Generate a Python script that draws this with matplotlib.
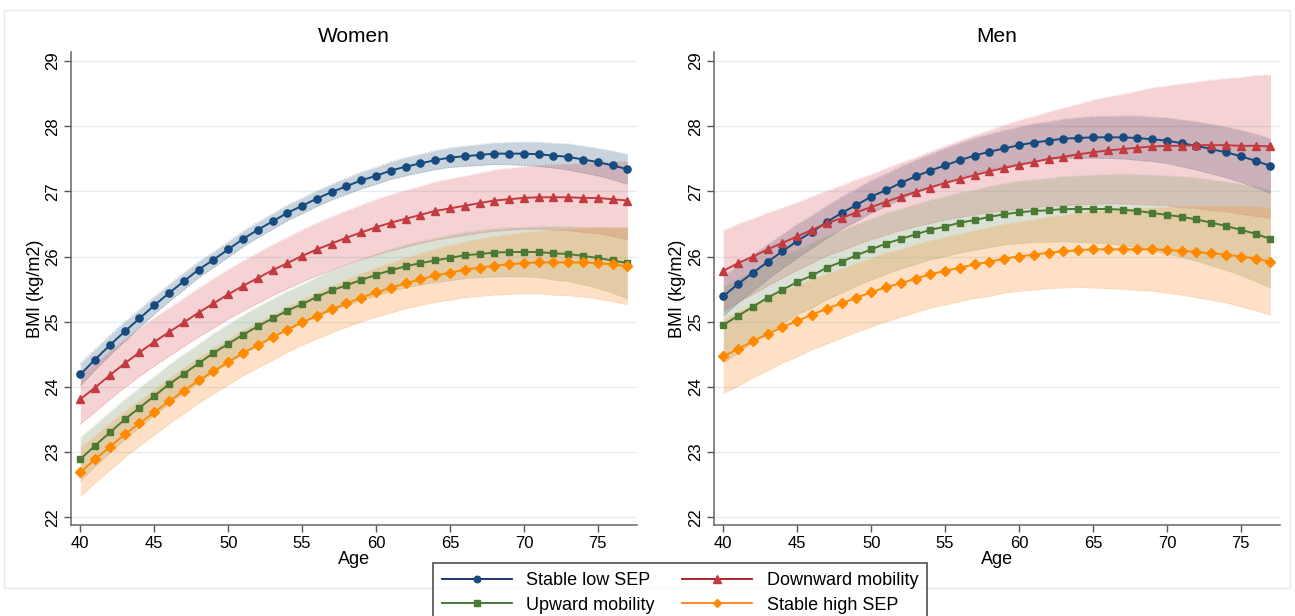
import numpy as np
import matplotlib
matplotlib.use("Agg")
import matplotlib.pyplot as plt
from matplotlib.lines import Line2D
from matplotlib.patches import Rectangle

plt.rcParams['font.family'] = ['Liberation Sans', 'DejaVu Sans']

ages = list(range(40, 78))
x_ticks = [40, 45, 50, 55, 60, 65, 70, 75]
y_ticks = [22, 23, 24, 25, 26, 27, 28, 29]
groups = ["Stable low SEP", "Downward mobility", "Upward mobility", "Stable high SEP"]

# Women: predicted BMI by age
women_low = [24.19, 24.42, 24.64, 24.85, 25.05, 25.25, 25.44, 25.62, 25.80, 25.95,
             26.11, 26.27, 26.41, 26.54, 26.67, 26.78, 26.89, 26.99, 27.08, 27.17,
             27.24, 27.32, 27.38, 27.43, 27.48, 27.52, 27.54, 27.56, 27.58, 27.58,
             27.58, 27.57, 27.55, 27.53, 27.49, 27.45, 27.40, 27.34]
women_down = [23.81, 23.99, 24.18, 24.36, 24.53, 24.69, 24.84, 24.99, 25.14, 25.28,
              25.42, 25.55, 25.67, 25.79, 25.90, 26.01, 26.11, 26.20, 26.29, 26.37,
              26.45, 26.52, 26.58, 26.64, 26.70, 26.74, 26.78, 26.82, 26.86, 26.88,
              26.90, 26.91, 26.91, 26.91, 26.90, 26.90, 26.88, 26.86]
women_up = [22.89, 23.10, 23.30, 23.50, 23.68, 23.86, 24.04, 24.20, 24.36, 24.52,
            24.66, 24.80, 24.93, 25.05, 25.17, 25.27, 25.38, 25.48, 25.56, 25.64,
            25.72, 25.79, 25.85, 25.90, 25.94, 25.98, 26.02, 26.04, 26.06, 26.07,
            26.07, 26.07, 26.05, 26.04, 26.01, 25.98, 25.94, 25.90]
women_high = [22.69, 22.89, 23.08, 23.27, 23.44, 23.61, 23.78, 23.94, 24.10, 24.24,
              24.38, 24.52, 24.64, 24.76, 24.88, 24.99, 25.09, 25.19, 25.28, 25.37,
              25.45, 25.52, 25.59, 25.65, 25.71, 25.75, 25.80, 25.83, 25.86, 25.88,
              25.90, 25.91, 25.91, 25.91, 25.91, 25.90, 25.88, 25.85]

# Women: half width of 95% CI
women_low_ci = [0.17, 0.16, 0.155, 0.15, 0.14, 0.135, 0.13, 0.13, 0.125, 0.12,
                0.12, 0.12, 0.12, 0.12, 0.12, 0.12, 0.12, 0.12, 0.125, 0.13,
                0.13, 0.135, 0.14, 0.14, 0.145, 0.15, 0.155, 0.16, 0.165, 0.17,
                0.18, 0.185, 0.19, 0.20, 0.205, 0.21, 0.22, 0.23]
women_down_ci = [0.38, 0.375, 0.37, 0.37, 0.37, 0.37, 0.37, 0.37, 0.375, 0.38,
                 0.38, 0.385, 0.39, 0.39, 0.395, 0.40, 0.405, 0.41, 0.415, 0.42,
                 0.425, 0.43, 0.435, 0.44, 0.445, 0.45, 0.455, 0.46, 0.47, 0.475,
                 0.48, 0.49, 0.50, 0.51, 0.53, 0.55, 0.57, 0.60]
women_up_ci = [0.33, 0.32, 0.315, 0.31, 0.305, 0.30, 0.30, 0.30, 0.30, 0.30,
               0.30, 0.30, 0.30, 0.30, 0.30, 0.30, 0.305, 0.31, 0.31, 0.315,
               0.32, 0.325, 0.33, 0.335, 0.34, 0.35, 0.355, 0.36, 0.37, 0.375,
               0.38, 0.39, 0.41, 0.42, 0.44, 0.47, 0.50, 0.55]
women_high_ci = [0.37, 0.365, 0.36, 0.355, 0.35, 0.35, 0.35, 0.35, 0.35, 0.35,
                 0.35, 0.35, 0.35, 0.35, 0.35, 0.35, 0.355, 0.36, 0.365, 0.37,
                 0.38, 0.385, 0.39, 0.40, 0.41, 0.42, 0.43, 0.44, 0.45, 0.46,
                 0.47, 0.48, 0.50, 0.51, 0.53, 0.55, 0.57, 0.59]

# Men: predicted BMI by age
men_low = [25.39, 25.58, 25.75, 25.92, 26.08, 26.24, 26.38, 26.53, 26.67, 26.79,
           26.92, 27.02, 27.13, 27.23, 27.32, 27.40, 27.48, 27.55, 27.61, 27.66,
           27.71, 27.75, 27.78, 27.81, 27.82, 27.83, 27.83, 27.83, 27.82, 27.80,
           27.78, 27.74, 27.70, 27.65, 27.60, 27.54, 27.47, 27.39]
men_down = [25.78, 25.90, 26.00, 26.11, 26.21, 26.31, 26.41, 26.51, 26.59, 26.68,
            26.76, 26.84, 26.92, 26.99, 27.06, 27.13, 27.19, 27.25, 27.31, 27.36,
            27.41, 27.45, 27.50, 27.53, 27.57, 27.60, 27.63, 27.65, 27.67, 27.69,
            27.70, 27.70, 27.71, 27.71, 27.71, 27.70, 27.70, 27.69]
men_up = [24.95, 25.09, 25.23, 25.37, 25.49, 25.61, 25.71, 25.83, 25.92, 26.02,
          26.11, 26.20, 26.27, 26.34, 26.41, 26.46, 26.52, 26.56, 26.61, 26.65,
          26.68, 26.70, 26.71, 26.73, 26.73, 26.73, 26.73, 26.72, 26.70, 26.67,
          26.64, 26.61, 26.57, 26.52, 26.47, 26.41, 26.35, 26.27]
men_high = [24.47, 24.58, 24.70, 24.81, 24.92, 25.01, 25.11, 25.20, 25.28, 25.37,
            25.45, 25.53, 25.59, 25.66, 25.73, 25.78, 25.83, 25.88, 25.92, 25.97,
            26.00, 26.03, 26.06, 26.08, 26.10, 26.11, 26.11, 26.11, 26.11, 26.11,
            26.10, 26.09, 26.07, 26.05, 26.03, 26.00, 25.97, 25.92]

# Men: half width of 95% CI
men_low_ci = [0.30, 0.29, 0.28, 0.27, 0.26, 0.26, 0.25, 0.25, 0.25, 0.25,
              0.25, 0.25, 0.25, 0.25, 0.25, 0.26, 0.26, 0.27, 0.27, 0.28,
              0.28, 0.29, 0.29, 0.30, 0.31, 0.32, 0.32, 0.33, 0.34, 0.34,
              0.35, 0.36, 0.37, 0.38, 0.39, 0.40, 0.41, 0.42]
men_down_ci = [0.62, 0.60, 0.58, 0.56, 0.54, 0.52, 0.51, 0.50, 0.50, 0.50,
               0.50, 0.51, 0.52, 0.53, 0.55, 0.57, 0.59, 0.61, 0.63, 0.66,
               0.68, 0.70, 0.72, 0.75, 0.77, 0.80, 0.82, 0.84, 0.87, 0.90,
               0.92, 0.95, 0.97, 1.00, 1.02, 1.05, 1.08, 1.10]
men_up_ci = [0.58, 0.57, 0.55, 0.54, 0.52, 0.50, 0.50, 0.49, 0.48, 0.47,
             0.47, 0.47, 0.46, 0.46, 0.46, 0.46, 0.46, 0.46, 0.47, 0.47,
             0.48, 0.48, 0.49, 0.50, 0.51, 0.52, 0.53, 0.55, 0.56, 0.58,
             0.60, 0.62, 0.64, 0.66, 0.68, 0.70, 0.73, 0.75]
men_high_ci = [0.57, 0.57, 0.56, 0.56, 0.55, 0.55, 0.54, 0.54, 0.53, 0.53,
               0.53, 0.53, 0.52, 0.52, 0.52, 0.52, 0.52, 0.52, 0.53, 0.53,
               0.53, 0.54, 0.55, 0.56, 0.57, 0.59, 0.60, 0.61, 0.63, 0.64,
               0.66, 0.68, 0.70, 0.72, 0.74, 0.77, 0.80, 0.82]

# styles per group
mark_cols = ['#174a7e', '#c23b40', '#4a7a34', '#ff8a00']
band_cols = ['#1a476f', '#d9434e', '#7e9a6a', '#fb8f2a']
band_alpha = [0.24, 0.24, 0.28, 0.27]
leg_cols = ['#0c2568', '#a8121a', '#3c6a2c', '#ff7f1a']
markers = ['o', '^', 's', 'D']
msizes = [5.2, 5.8, 5, 4.7]

W, H = 1295, 616
fig = plt.figure(figsize=(W / 100, H / 100), dpi=100)
fig.patches.append(Rectangle((4 / W, 1 - 588 / H), 1286 / W, 578 / H,
                             transform=fig.transFigure, fill=False,
                             edgecolor='#e8e8e8', linewidth=1))

ax_w = fig.add_axes([71 / W, 1 - 525 / H, 566 / W, 473 / H])
ax_m = fig.add_axes([714 / W, 1 - 525 / H, 566 / W, 473 / H])

panels = [
    (ax_w, "Women", [women_low, women_down, women_up, women_high],
     [women_low_ci, women_down_ci, women_up_ci, women_high_ci]),
    (ax_m, "Men", [men_low, men_down, men_up, men_high],
     [men_low_ci, men_down_ci, men_up_ci, men_high_ci]),
]

for ax, title, means, cis in panels:
    for g in range(4):
        m = np.array(means[g])
        c = np.array(cis[g])
        ax.fill_between(ages, m - c, m + c, color=band_cols[g], alpha=band_alpha[g],
                        linewidth=0, zorder=2)
        ax.plot(ages, m - c, color=band_cols[g], alpha=0.25, lw=0.8, ls=':', zorder=2)
        ax.plot(ages, m + c, color=band_cols[g], alpha=0.25, lw=0.8, ls=':', zorder=2)
    for g in range(4):
        ax.plot(ages, means[g], color=mark_cols[g], lw=1.4, marker=markers[g],
                markersize=msizes[g], zorder=4)

    ax.set_xlim(39.37, 77.65)
    ax.set_ylim(21.88, 29.14)
    ax.set_xticks(x_ticks)
    ax.set_yticks(y_ticks)
    ax.set_yticklabels([str(v) for v in y_ticks], rotation=90, va='center')
    ax.tick_params(labelsize=12, color='#555555', length=5, width=1, pad=3)
    ax.grid(axis='y', color='#e3edf3', lw=1, zorder=0)
    ax.set_axisbelow(True)
    for s in ['top', 'right']:
        ax.spines[s].set_visible(False)
    for s in ['left', 'bottom']:
        ax.spines[s].set_color('#666666')
        ax.spines[s].set_linewidth(1.1)
    ax.set_title(title, fontsize=15, pad=7)
    ax.set_xlabel("Age", fontsize=13, labelpad=0)
    ax.set_ylabel("BMI (kg/m2)", fontsize=13, labelpad=1)

handles = [Line2D([], [], color=leg_cols[g], lw=1.3, marker=markers[g],
                  markersize=msizes[g] - 0.5, markerfacecolor=mark_cols[g],
                  markeredgecolor=mark_cols[g])
           for g in range(4)]
# matplotlib fills legend columns first: reorder so rows read low/down, up/high
order = [0, 2, 1, 3]
leg = fig.legend([handles[i] for i in order], [groups[i] for i in order],
                 loc='upper center', bbox_to_anchor=(680 / W, 1 - 563 / H),
                 ncol=2, fontsize=13, frameon=True, fancybox=False,
                 handlelength=3.9, columnspacing=1.5, labelspacing=0.42,
                 borderpad=0.5, handletextpad=0.8, borderaxespad=0)
leg.get_frame().set_edgecolor('#222222')
leg.get_frame().set_linewidth(1.2)

fig.savefig("out.png", dpi=100)
